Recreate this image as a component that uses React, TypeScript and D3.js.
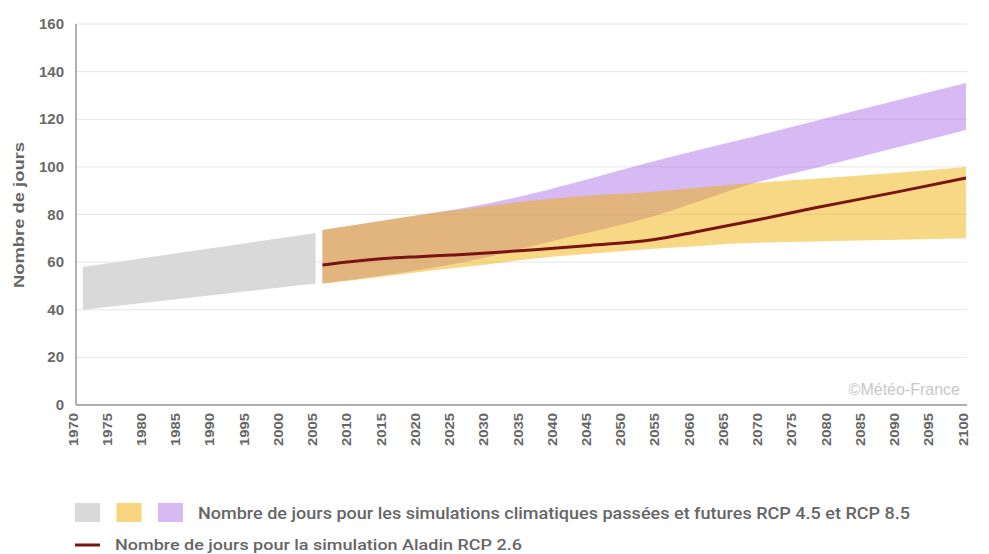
import React from 'react';
import * as d3 from 'd3';

// Historical simulations (grey band)
const histYears = [1971, 2005];
const histLow = [40, 51];
const histHigh = [58, 72.2];

// Future simulations RCP 4.5 (yellow) and RCP 8.5 (purple)
const rcpYears = [2006, 2015, 2022, 2030, 2037, 2045, 2054, 2062, 2068, 2078, 2090, 2100];
const rcp45Low = [51, 54, 56.5, 59, 61.5, 63.5, 65.5, 67, 68, 68.7, 69.4, 70];
const rcp45High = [73.5, 77.5, 80.5, 83.5, 86, 88, 89.5, 91.5, 93, 95, 97.5, 100];
const rcp85Low = [51, 54.5, 57.5, 62, 67, 72.5, 79, 86.5, 92.3, 99.5, 108.2, 115.5];
const rcp85High = [73.5, 77.5, 80.6, 84.5, 89, 95, 102, 107.8, 112, 119.3, 128, 135.2];

// Aladin RCP 2.6 line
const aladinYears = [2006, 2010, 2015, 2020, 2025, 2030, 2037, 2045, 2054, 2061, 2070, 2078, 2090, 2100];
const aladinValues = [58.8, 60.2, 61.5, 62.3, 63, 63.8, 65.2, 67, 69.3, 73, 78, 82.8, 89.5, 95.3];

const yTicks = [0, 20, 40, 60, 80, 100, 120, 140, 160];
const xTicks = d3.range(1970, 2101, 5);

const legendBandColors = ['#d9d9d9', '#f8d57f', '#d8b9f3'];
const legendBandLabel = 'Nombre de jours pour les simulations climatiques passées et futures RCP 4.5 et RCP 8.5';
const legendLineLabel = 'Nombre de jours pour la simulation Aladin RCP 2.6';

const W = 989;
const H = 554;
const left = 76;
const right = 966;
const top = 24;
const bottom = 405;

export default function App() {
  const x = d3.scaleLinear().domain([1970, 2100]).range([left, right]);
  const y = d3.scaleLinear().domain([0, 160]).range([bottom, top]);

  const band = (years: number[], lo: number[], hi: number[], curve = d3.curveLinear) =>
    d3
      .area<number>()
      .x((_, i) => x(years[i]))
      .y0((_, i) => y(lo[i]))
      .y1((_, i) => y(hi[i]))
      .curve(curve)(years) || '';

  const line = d3
    .line<number>()
    .x((_, i) => x(aladinYears[i]))
    .y((_, i) => y(aladinValues[i]))
    .curve(d3.curveMonotoneX)(aladinYears) || '';

  const font = 'Liberation Sans, Arial, sans-serif';

  return (
    <svg width={W} height={H} style={{ position: 'absolute', left: 0, top: 0, background: '#fff' }} fontFamily={font}>
      {/* grid */}
      {yTicks.map((t) => (
        <line key={'g' + t} x1={left} x2={right + 1} y1={y(t)} y2={y(t)} stroke="#e6e6e6" strokeWidth={1} />
      ))}

      {/* bands */}
      <path d={band(histYears, histLow, histHigh)} fill="#d9d9d9" />
      <path d={band(rcpYears, rcp85Low, rcp85High, d3.curveMonotoneX)} fill="rgb(166,99,228)" fillOpacity={0.45} />
      <path d={band(rcpYears, rcp45Low, rcp45High, d3.curveMonotoneX)} fill="rgb(240,178,10)" fillOpacity={0.5} />

      {/* line */}
      <path d={line} fill="none" stroke="#7a1414" strokeWidth={3} />

      {/* axes */}
      <line x1={left} x2={left} y1={top} y2={bottom} stroke="#999" strokeWidth={1.5} />
      <line x1={left} x2={right + 1} y1={bottom} y2={bottom} stroke="#999" strokeWidth={1.5} />

      {yTicks.map((t) => (
        <text key={'y' + t} x={64} y={y(t) + 5} textAnchor="end" fontSize={15} fontWeight="bold" fill="#6a6a6a">
          {t}
        </text>
      ))}
      {xTicks.map((t) => (
        <text
          key={'x' + t}
          transform={`translate(${x(t) + 1.5},${bottom + 8}) rotate(-90)`}
          textAnchor="end"
          fontSize={13}
          fontWeight="bold"
          fill="#666"
          textLength={33}
          lengthAdjust="spacingAndGlyphs"
        >
          {t}
        </text>
      ))}
      <text
        transform={`translate(24,${215}) rotate(-90)`}
        textAnchor="middle"
        fontSize={15}
        fontWeight="bold"
        fill="#666"
        textLength={146}
        lengthAdjust="spacingAndGlyphs"
      >
        Nombre de jours
      </text>

      <text x={960} y={395} textAnchor="end" fontSize={16} fill="#c8c8c8">
        ©Météo-France
      </text>

      {/* legend */}
      {legendBandColors.map((c, i) => (
        <rect key={c} x={75 + i * 41.5} y={503} width={25} height={19} fill={c} />
      ))}
      <text
        x={198}
        y={519}
        fontSize={16}
        fontFamily="Roboto, sans-serif"
        fontWeight={500}
        fill="#666"
        textLength={712}
        lengthAdjust="spacingAndGlyphs"
      >
        {legendBandLabel}
      </text>
      <line x1={75} x2={100} y1={545} y2={545} stroke="#7a1414" strokeWidth={3} />
      <text
        x={115}
        y={550}
        fontSize={15}
        fontFamily="Roboto, sans-serif"
        fontWeight={500}
        fill="#666"
        textLength={407}
        lengthAdjust="spacingAndGlyphs"
      >
        {legendLineLabel}
      </text>
    </svg>
  );
}
